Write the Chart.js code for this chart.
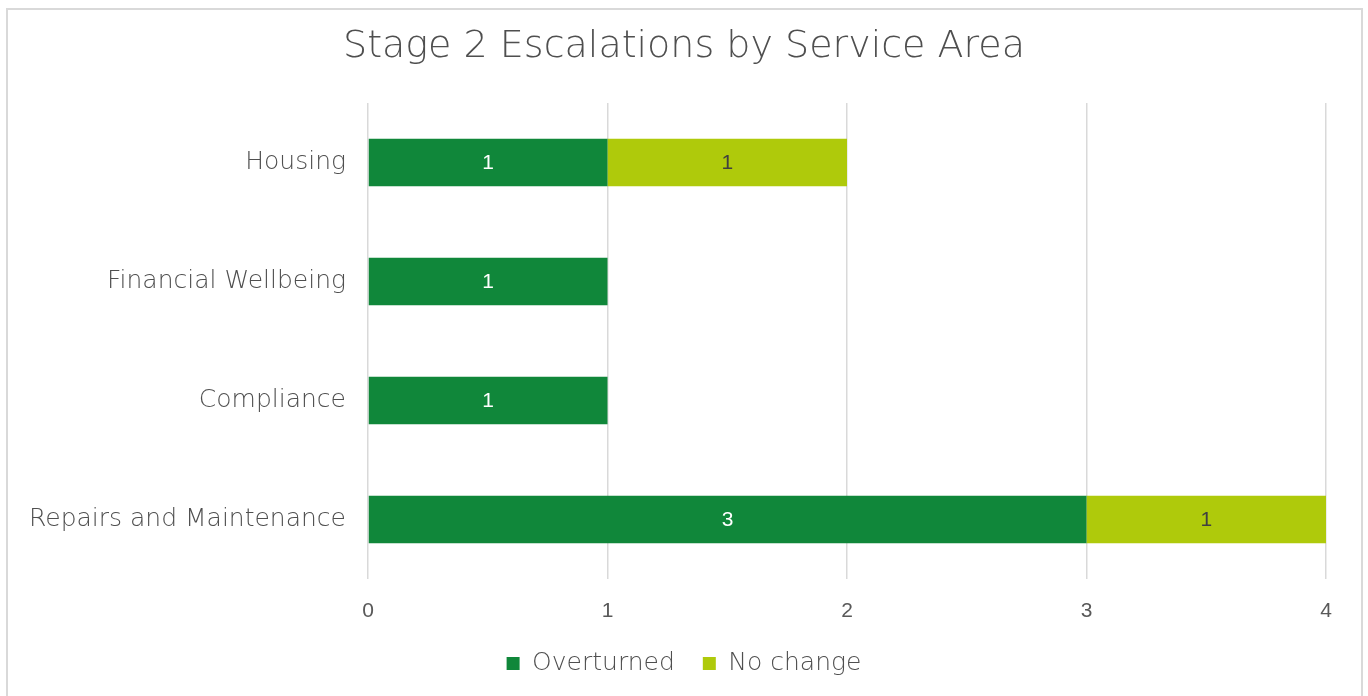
<!DOCTYPE html>
<html>
<head>
<meta charset="utf-8">
<script src="https://cdn.jsdelivr.net/npm/chart.js@4.4.0/dist/chart.umd.min.js"></script>
<style>
  html, body { margin: 0; padding: 0; background: #fff; }
  #wrap { position: relative; width: 1368px; height: 696px; overflow: hidden; }
  #frame {
    position: absolute; left: 6px; top: 8px; width: 1353px; height: 700px;
    border: 2px solid #d9d9d9; pointer-events: none;
  }
  canvas { position: absolute; left: 0; top: 0; }
</style>
</head>
<body>
<div id="wrap">
  <canvas id="escalationsChart" width="1368" height="696"></canvas>
  <div id="frame"></div>
</div>
<script>
// Chart data
const serviceAreas = ["Housing", "Financial Wellbeing", "Compliance", "Repairs and Maintenance"];
const overturned = [1, 1, 1, 3];
const noChange = [1, 0, 0, 1];
const xTicks = [0, 1, 2, 3, 4];

const COLORS = {
  darkGreen: "#10873a",
  lightGreen: "#afca0b",
  text: "#4f4f4f",
  tick: "#595959",
  grid: "#d9d9d9",
};

const LABEL_FONT = "'DejaVu Sans', 'Open Sans', sans-serif";
const NUM_FONT = "'Liberation Sans', Arial, sans-serif";
const PLOT_BOTTOM = 579; // where the vertical gridlines stop
const LEGEND_BOTTOM_PAD = 10;

// Draw the value in the middle of each segment (skip zeros)
const barValueLabels = {
  id: "barValueLabels",
  afterDatasetsDraw(chart) {
    const ctx = chart.ctx;
    ctx.save();
    ctx.font = "21px " + NUM_FONT;
    ctx.textAlign = "center";
    ctx.textBaseline = "middle";
    chart.data.datasets.forEach((dataset, di) => {
      const meta = chart.getDatasetMeta(di);
      if (meta.hidden) return;
      meta.data.forEach((bar, i) => {
        const v = dataset.data[i];
        if (!v) return;
        ctx.fillStyle = di === 0 ? "#ffffff" : "#404040";
        ctx.fillText(String(v), (bar.x + bar.base) / 2, bar.y + 1);
      });
    });
    ctx.restore();
  },
};

const ctx = document.getElementById("escalationsChart").getContext("2d");

new Chart(ctx, {
  type: "bar",
  data: {
    labels: serviceAreas,
    datasets: [
      {
        label: "Overturned",
        data: overturned,
        backgroundColor: COLORS.darkGreen,
        borderWidth: 0,
        categoryPercentage: 0.4,
        barPercentage: 1.0,
      },
      {
        label: "No change",
        data: noChange,
        backgroundColor: COLORS.lightGreen,
        borderWidth: 0,
        categoryPercentage: 0.4,
        barPercentage: 1.0,
      },
    ],
  },
  options: {
    indexAxis: "y",
    responsive: false,
    animation: false,
    layout: {
      padding: { left: 0, right: 0, top: 0, bottom: LEGEND_BOTTOM_PAD },
    },
    plugins: {
      title: {
        display: true,
        text: "Stage 2 Escalations by Service Area",
        color: COLORS.text,
        font: { family: LABEL_FONT, size: 38, weight: 300 },
        padding: { top: 24, bottom: 33.4 },
      },
      legend: {
        display: true,
        position: "bottom",
        labels: {
          color: COLORS.text,
          font: { family: LABEL_FONT, size: 25, weight: 300 },
          boxWidth: 13,
          boxHeight: 13,
          padding: 28,
        },
      },
      tooltip: { enabled: false },
    },
    scales: {
      x: {
        stacked: true,
        min: 0,
        max: 4,
        afterBuildTicks: (axis) => {
          axis.ticks = xTicks.map((v) => ({ value: v }));
        },
        afterFit: (axis) => {
          // keep the plot bottom fixed whatever the legend takes
          const legendH = axis.chart.legend ? axis.chart.legend.height : 0;
          axis.height = axis.chart.height - LEGEND_BOTTOM_PAD - legendH - PLOT_BOTTOM;
        },
        grid: {
          color: COLORS.grid,
          lineWidth: 1.5,
          drawTicks: false,
        },
        border: { display: false },
        ticks: {
          color: COLORS.tick,
          padding: 20,
          font: { family: NUM_FONT, size: 21 },
        },
      },
      y: {
        stacked: true,
        afterFit: (axis) => {
          axis.width = 368;
        },
        grid: { display: false, drawTicks: false },
        border: { display: false },
        ticks: {
          color: COLORS.text,
          padding: 22,
          font: { family: LABEL_FONT, size: 25, weight: 300 },
        },
      },
      // empty right-hand axis so the plot ends at x=1326 while title and legend stay centred
      yRight: {
        type: "category",
        position: "right",
        afterFit: (axis) => {
          axis.width = 42;
        },
        grid: { display: false, drawTicks: false },
        border: { display: false },
        ticks: { display: false },
      },
    },
  },
  plugins: [barValueLabels],
});
</script>
</body>
</html>
